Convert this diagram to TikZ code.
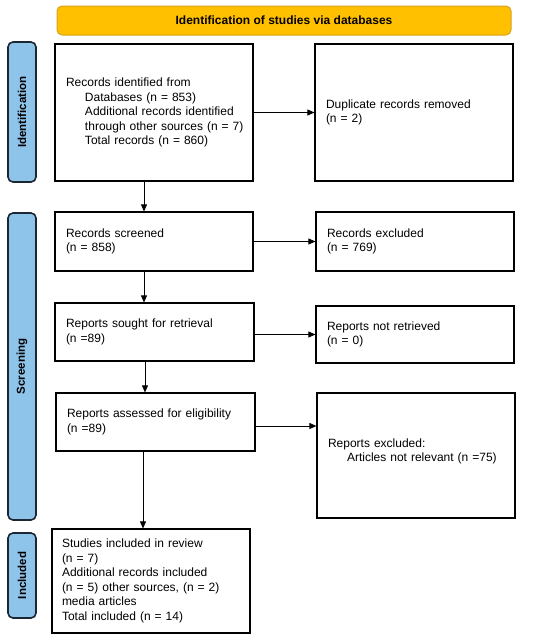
\documentclass[tikz,border=0pt]{standalone}
\usepackage{fontspec}
\setmainfont{Liberation Sans}
\usetikzlibrary{arrows.meta}
\definecolor{banfill}{HTML}{FFC000}
\definecolor{bandraw}{HTML}{D9A21E}
\definecolor{sidefill}{HTML}{8EC3EA}
\definecolor{sidedraw}{HTML}{1B2733}
\begin{document}
\begin{tikzpicture}[x=1pt,y=-1pt,
  every node/.style={font=\fontsize{12}{14.5}\selectfont},
  flowbox/.style={draw=black,line width=1.2pt,fill=white,inner xsep=11pt,inner ysep=0pt,align=left},
  sidebox/.style={draw=sidedraw,fill=sidefill,line width=1.6pt,rounded corners=5pt,minimum width=28pt,inner sep=0pt},
  sidetext/.style={font=\fontsize{11.5}{13}\selectfont\bfseries,rotate=90},
  arr/.style={line width=0.8pt,-{Triangle[length=7pt,width=6pt]}}
]
\useasboundingbox (0,0) rectangle (550,641);
% banner
\node[draw=bandraw,fill=banfill,line width=1pt,rounded corners=5pt,minimum width=454pt,minimum height=29pt,inner sep=0pt,font=\fontsize{12}{14}\selectfont\bfseries] (ban) at (284,20.5) {Identification of studies via databases};
% side labels
\node[sidebox,minimum height=140pt] (sid) at (22,112) {};
\node[sidetext] (sidt) at (sid.center) {Identification};
\node[sidebox,minimum height=307pt] (sis) at (22,366.5) {};
\node[sidetext] (sist) at (sis.center) {Screening};
\node[sidebox,minimum height=85pt] (sii) at (22,575.5) {};
\node[sidetext] (siit) at (sii.center) {Included};
% boxes
\node[flowbox,text width=176pt,minimum height=137pt] (b1) at (154,112.5) {Records identified from\\
\hspace*{19pt}Databases (n = 853)\\
\hspace*{19pt}Additional records identified\\
\hspace*{19pt}\mbox{through other sources (n = 7)}\\
\hspace*{19pt}Total records (n = 860)};
\node[flowbox,text width=176pt,minimum height=137pt] (dup) at (414,112.5) {Duplicate records removed\\(n = 2)};
\node[flowbox,text width=176pt,minimum height=59pt] (b2) at (154,241.5) {Records screened\\(n = 858)};
\node[flowbox,text width=176pt,minimum height=59pt] (exc) at (415,241.5) {Records excluded\\(n = 769)};
\node[flowbox,text width=177pt,minimum height=58pt] (b3) at (154.5,332) {Reports sought for retrieval\\(n =89)};
\node[flowbox,text width=176pt,minimum height=57pt] (nr) at (415,334.5) {Reports not retrieved\\(n = 0)};
\node[flowbox,text width=177pt,minimum height=58pt] (b4) at (155.5,422) {Reports assessed for eligibility\\(n =89)};
\node[flowbox,text width=176pt,minimum height=125pt] (rex) at (416,455.5) {Reports excluded:\\
\hspace*{19pt}Articles not relevant (n =75)\\[-3.5pt]\mbox{}};
\node[flowbox,text width=178pt,inner xsep=10pt,minimum height=104pt] (b5) at (151,581) {Studies included in review\\(n = 7)\\Additional records included\\(n = 5) other sources, (n = 2)\\media articles\\Total included (n = 14)};
% arrows
\draw[arr] (b1) -- (dup);
\draw[arr] (b2) -- (exc);
\draw[arr] (b3.east |- nr.west) -- (nr.west);
\draw[arr] ([yshift=-4pt]b4.east) -- ([yshift=-4pt]b4.east -| rex.west);
\draw[arr] ([xshift=-10pt]b1.south) -- ([xshift=-10pt]b1.south |- b2.north);
\draw[arr] ([xshift=-10pt]b2.south) -- ([xshift=-10pt]b2.south |- b3.north);
\draw[arr] ([xshift=-9.5pt]b3.south) -- ([xshift=-9.5pt]b3.south |- b4.north);
\draw[arr] ([xshift=-12.5pt]b4.south) -- ([xshift=-12.5pt]b4.south |- b5.north);
\end{tikzpicture}
\end{document}
